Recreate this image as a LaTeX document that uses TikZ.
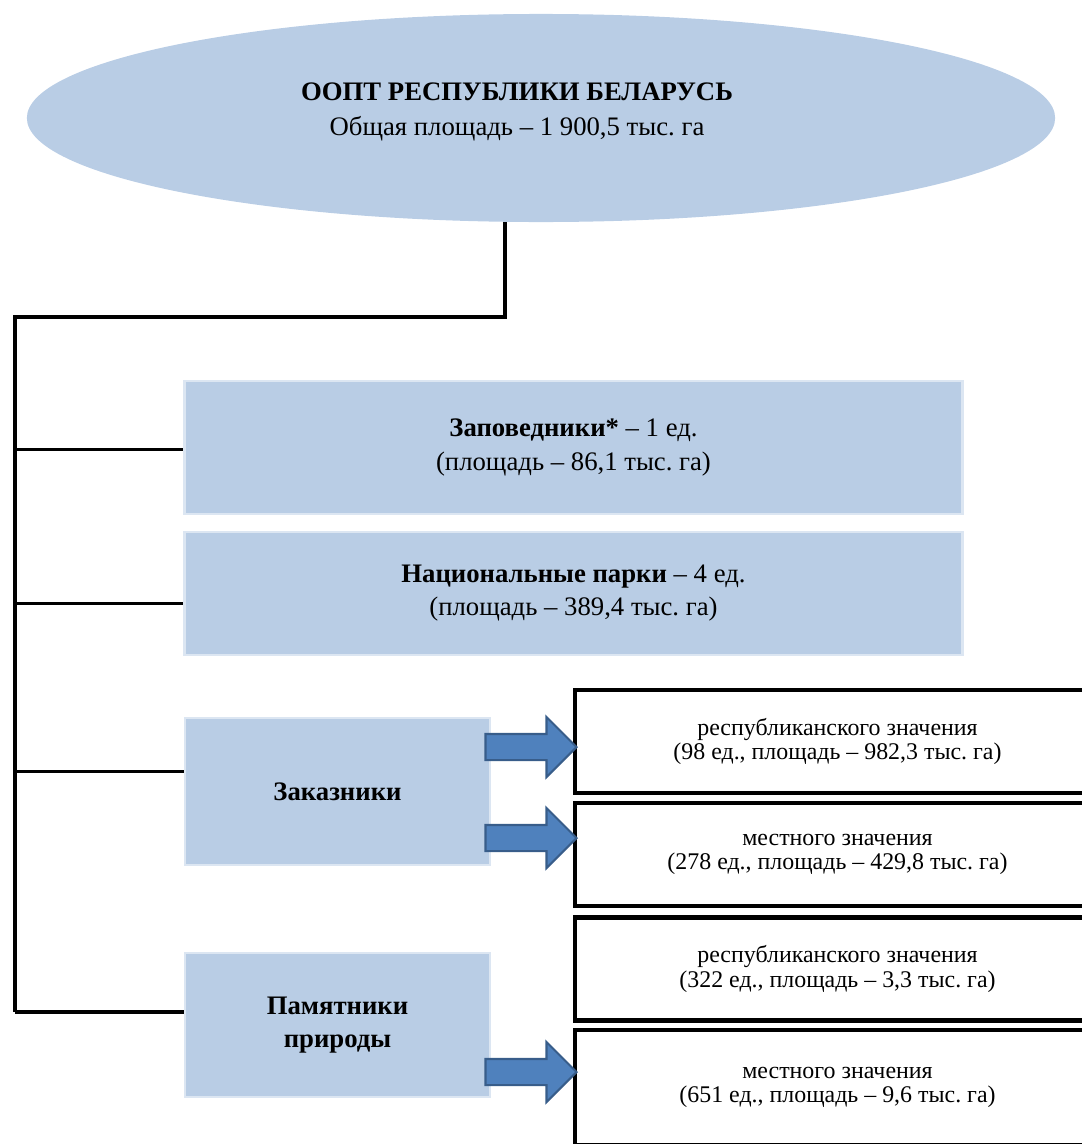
\documentclass[tikz,border=0pt]{standalone}
\usepackage{fontspec}
\setmainfont{Liberation Serif}
\frenchspacing
\usetikzlibrary{positioning,shapes.geometric,shapes.arrows}
\definecolor{paleblue}{HTML}{B9CDE5}
\definecolor{paleedge}{HTML}{DCE6F2}
\definecolor{arrowblue}{HTML}{4F81BD}
\definecolor{arrowedge}{HTML}{385D8A}
\tikzset {
    style oval/.style={
        ellipse,
        fill=paleblue,
        draw=none,
        minimum width=25.7cm,
        minimum height=5.2cm,
    },
    style title/.style={
        draw=none,
        align=center,
        font=\fontsize{19}{25}\selectfont,
    },
    style kind/.style={
        fill=paleblue,
        draw=paleedge,
        line width=2pt,
        rectangle, % Set the shape as a rectangle
        align=center,
        font=\fontsize{19}{23.5}\selectfont,
    },
    style sub/.style={
        fill=white,
        draw=black,
        line width=3pt,
        rectangle, % Set the shape as a rectangle
        minimum width=13.125cm,
        minimum height=2.575cm,
        align=center,
        font=\fontsize{17}{17.5}\selectfont,
    },
    style arrow/.style={
        single arrow,
        fill=arrowblue,
        draw=arrowedge,
        line width=1.5pt,
        minimum height=2.275cm,
        inner xsep=0pt,
        inner ysep=0.3cm,
        single arrow head extend=0.425cm,
        single arrow head indent=0pt,
    },
    style trunk/.style={draw=black, line width=3pt},
    style branch/.style={draw=black, line width=2.2pt},
}

\begin{document}
\begin{tikzpicture}[x=0.025cm, y=-0.025cm]
\useasboundingbox (0,0) rectangle (1081,1144);

\node[style oval] (oval) at (541,118) {};
\node[style title] (title) at (517,112) {\textbf{ООПТ РЕСПУБЛИКИ БЕЛАРУСЬ}\\Общая площадь – 1 900,5 тыс. га};

\node[style kind, minimum width=19.425cm, minimum height=3.325cm] at (573.5,447.5) (zap) {\textbf{Заповедники*} – 1 ед.\\(площадь – 86,1 тыс. га)};
\node[style kind, minimum width=19.425cm, minimum height=3.075cm] at (573.5,593.5) (nat) {\textbf{Национальные парки} – 4 ед.\\(площадь – 389,4 тыс. га)};
\node[style kind, minimum width=7.625cm, minimum height=3.675cm] at (337.5,791.5) (zak) {\textbf{Заказники}};
\node[style kind, minimum width=7.625cm, minimum height=3.6cm] at (337.5,1025) (pam) {\textbf{Памятники}\\\textbf{природы}};

\node[style sub] at (837.5,741.5) (zakrep) {республиканского значения\\(98 ед., площадь – 982,3 тыс. га)};
\node[style sub] at (837.5,854.5) (zakloc) {местного значения\\(278 ед., площадь – 429,8 тыс. га)};
\node[style sub] at (837.5,969) (pamrep) {республиканского значения\\(322 ед., площадь – 3,3 тыс. га)};
\node[style sub, minimum height=2.875cm] at (837.5,1087.5) (pamloc) {местного значения\\(651 ед., площадь – 9,6 тыс. га)};

\node[style arrow, anchor=tip] at (578,747) (arrzakrep) {};
\node[style arrow, anchor=tip] at (578,838) (arrzakloc) {};
\node[style arrow, anchor=tip] at (578,1072) (arrpamloc) {};

\coordinate (hub) at (505,317);
\coordinate (corner) at (15,317);
\coordinate (foot) at (15,1012);
\draw[style trunk] (oval.south -| hub) -- (hub) -- (corner) -- (foot);
\draw[style branch] ([yshift=-0.06cm]zap.west -| corner) -- ([yshift=-0.06cm]zap.west);
\draw[style branch] ([yshift=-0.26cm]nat.west -| corner) -- ([yshift=-0.26cm]nat.west);
\draw[style branch] ([yshift=0.51cm]zak.west -| corner) -- ([yshift=0.51cm]zak.west);
\draw[style branch] ([yshift=0.325cm]pam.west -| corner) -- ([yshift=0.325cm]pam.west);
\end{tikzpicture}
\end{document}
